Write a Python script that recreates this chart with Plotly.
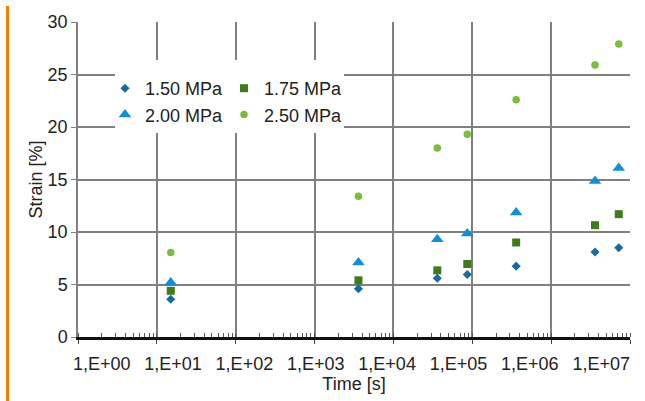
import numpy as np
import plotly.graph_objects as go

# ---- data ----
time_s = [15, 3600, 36000, 86400, 360000, 3600000, 7200000]
strain_150 = [3.6, 4.6, 5.6, 5.95, 6.75, 8.1, 8.5]
strain_175 = [4.4, 5.4, 6.35, 6.95, 9.0, 10.65, 11.7]
strain_200 = [5.2, 7.1, 9.3, 9.85, 11.85, 14.85, 16.1]
strain_250 = [8.05, 13.4, 18.0, 19.3, 22.6, 25.9, 27.9]
series_names = ["1.50 MPa", "1.75 MPa", "2.00 MPa", "2.50 MPa"]
x_tick_labels = ["1,E+00", "1,E+01", "1,E+02", "1,E+03", "1,E+04", "1,E+05", "1,E+06", "1,E+07"]
y_ticks = [0, 5, 10, 15, 20, 25, 30]

FONT = "Liberation Sans, Arial, sans-serif"
TXT = "#222222"
GRID = "#808080"
FS = 18

styles = [
    dict(symbol="diamond", size=7, color="#1769a3", legend="legend"),
    dict(symbol="square", size=8, color="#3e7b1d", legend="legend2"),
    dict(symbol="triangle-up", size=11, color="#0f8fd4", legend="legend"),
    dict(symbol="circle", size=7.5, color="#7dbc3f", legend="legend2"),
]
values = [strain_150, strain_175, strain_200, strain_250]

fig = go.Figure()
for name, vals, st in zip(series_names, values, styles):
    fig.add_trace(go.Scatter(
        x=time_s, y=vals, mode="markers", name=name,
        marker=dict(symbol=st["symbol"], size=st["size"], color=st["color"], line=dict(width=0)),
        legend=st["legend"],
    ))

# helper trace for the label-only overlay axis
fig.add_trace(go.Scatter(x=[1], y=[None], xaxis="x2", yaxis="y", showlegend=False,
                         mode="markers", hoverinfo="skip"))

# label positions (labels in the reference are set slightly tighter than the decades)
label_start, label_step = 0.30, 0.905
label_pos = [10 ** (label_start + label_step * i) for i in range(len(x_tick_labels))]

W_PLOT, H_PLOT, L, T = 552, 315, 78, 22
def px_x(p):
    return (p - L) / W_PLOT
def px_y(p):
    return (T + H_PLOT - p) / H_PLOT

fig.update_layout(
    width=645, height=401,
    margin=dict(l=78, r=15, t=22, b=64, autoexpand=False),
    paper_bgcolor="white", plot_bgcolor="white",
    font=dict(family=FONT, size=FS, color=TXT),
    xaxis=dict(
        type="log", range=[0, 7], dtick=1, automargin=False,
        showgrid=True, gridcolor=GRID, gridwidth=1.5,
        showline=True, linecolor="#111111", linewidth=2.5,
        ticks="outside", ticklen=4, tickcolor="#444", showticklabels=False,
        minor=dict(ticks="inside", ticklen=4, tickcolor="#555", dtick="D1", showgrid=False),
        zeroline=False,
    ),
    xaxis2=dict(
        type="log", range=[0, 7], overlaying="x", anchor="y", side="bottom",
        automargin=False,
        tickmode="array", tickvals=label_pos, ticktext=x_tick_labels,
        showgrid=False, showline=False, ticks="", zeroline=False,
        ticklabelstandoff=14,
        tickfont=dict(size=FS, color=TXT),
        title=dict(text="Time [s]", font=dict(size=FS, color=TXT), standoff=3),
    ),
    yaxis=dict(
        range=[0, 30], tickmode="array", tickvals=y_ticks, automargin=False,
        showgrid=True, gridcolor=GRID, gridwidth=1.5,
        showline=True, linecolor=GRID, linewidth=1.5,
        ticks="outside", ticklen=5, tickcolor=GRID,
        zeroline=False,
        title=dict(text="Strain [%]", font=dict(size=FS, color=TXT), standoff=0),
    ),
    legend=dict(
        x=px_x(105), y=px_y(70), xanchor="left", yanchor="top",
        bgcolor="rgba(0,0,0,0)", borderwidth=0, font=dict(size=FS, color=TXT),
        itemwidth=30, tracegroupgap=0,
    ),
    legend2=dict(
        x=px_x(224), y=px_y(70), xanchor="left", yanchor="top",
        bgcolor="rgba(0,0,0,0)", borderwidth=0, font=dict(size=FS, color=TXT),
        itemwidth=30, tracegroupgap=0,
    ),
    shapes=[
        dict(type="rect", xref="paper", yref="paper", layer="above",
             x0=px_x(115), x1=px_x(344), y0=px_y(133), y1=px_y(60),
             fillcolor="white", line=dict(width=0)),
        dict(type="line", xref="paper", yref="paper",
             x0=px_x(7.5), x1=px_x(7.5), y0=px_y(401), y1=px_y(6),
             line=dict(color="#f08000", width=3)),
    ],
    showlegend=True,
)

fig.write_html("out.html", config={"displayModeBar": False},
               post_script="document.body.style.margin='0';")
